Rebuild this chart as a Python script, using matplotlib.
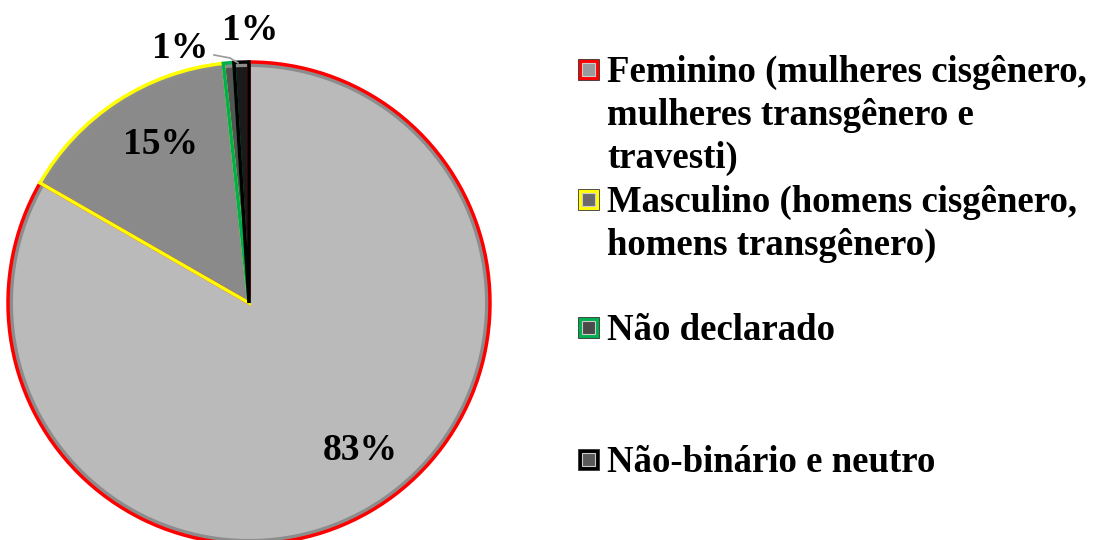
import matplotlib
matplotlib.use("Agg")
import matplotlib.pyplot as plt
from matplotlib.patches import Rectangle

labels = ['Feminino (mulheres cisgênero,\nmulheres transgênero e\ntravesti)',
          'Masculino (homens cisgênero,\nhomens transgênero)',
          'Não declarado',
          'Não-binário e neutro']
values = [83.3, 15.0, 0.7, 1.0]
pct_text = ['83%', '15%', '1%', '1%']
fills = ['#bababa', '#8a8a8a', '#555555', '#1a1a1a']
edges = ['#ff0000', '#ffff00', '#00b050', '#000000']
inner = ['#9a9a9a', '#6a6a6a', '#4a4a4a', '#5a5a5a']

plt.rcParams['font.family'] = ['Liberation Serif', 'DejaVu Serif']
plt.rcParams['font.weight'] = 'bold'

fig = plt.figure(figsize=(11.01, 5.40), dpi=100)
ax = fig.add_axes([0, 0, 1, 1])

cx, cy, r = 249, 237, 241

# soft shading ring to hint at the bevel
ax.pie(values, colors=['#8c8c8c'] * 4, startangle=90, counterclock=False,
       center=(cx, cy), radius=r, frame=True,
       wedgeprops=dict(linewidth=0))
ax.pie(values, colors=fills, startangle=90, counterclock=False,
       center=(cx, cy), radius=r - 5, frame=True,
       wedgeprops=dict(linewidth=0))
outl, _ = ax.pie(values, colors=['none'] * 4, startangle=90, counterclock=False,
                 center=(cx, cy), radius=r, frame=True,
                 wedgeprops=dict(linewidth=2.5))
for w, e in zip(outl, edges):
    w.set_edgecolor(e)
ax.set_xlim(0, 1101)
ax.set_ylim(0, 540)
ax.set_aspect('equal')
ax.axis('off')

fs = 27
ax.text(360, 90, pct_text[0], fontsize=fs, fontweight='bold', ha='center', va='center')
ax.text(160, 395, pct_text[1], fontsize=fs, fontweight='bold', ha='center', va='center')
ax.text(180, 492, pct_text[2], fontsize=fs, fontweight='bold', ha='center', va='center')
ax.plot([214, 230, 238], [485, 482, 477], color='#999999', lw=1.2)
ax.text(250, 510, pct_text[3], fontsize=fs, fontweight='bold', ha='center', va='center')

# legend
rows_y = [470, 340, 212, 80]   # y of first line (from bottom)
for lab, y, e, inn in zip(labels, rows_y, edges, inner):
    ax.add_patch(Rectangle((578, y - 10), 21, 21, facecolor=e, edgecolor='#333333', lw=0.6))
    ax.add_patch(Rectangle((582, y - 6), 13, 13, facecolor=inn, edgecolor='#cccccc', lw=0.8))
    ax.text(607, y + 15, lab, fontsize=26.5, fontweight='bold', ha='left', va='top',
            linespacing=1.29)

fig.savefig('out.png', dpi=100)
